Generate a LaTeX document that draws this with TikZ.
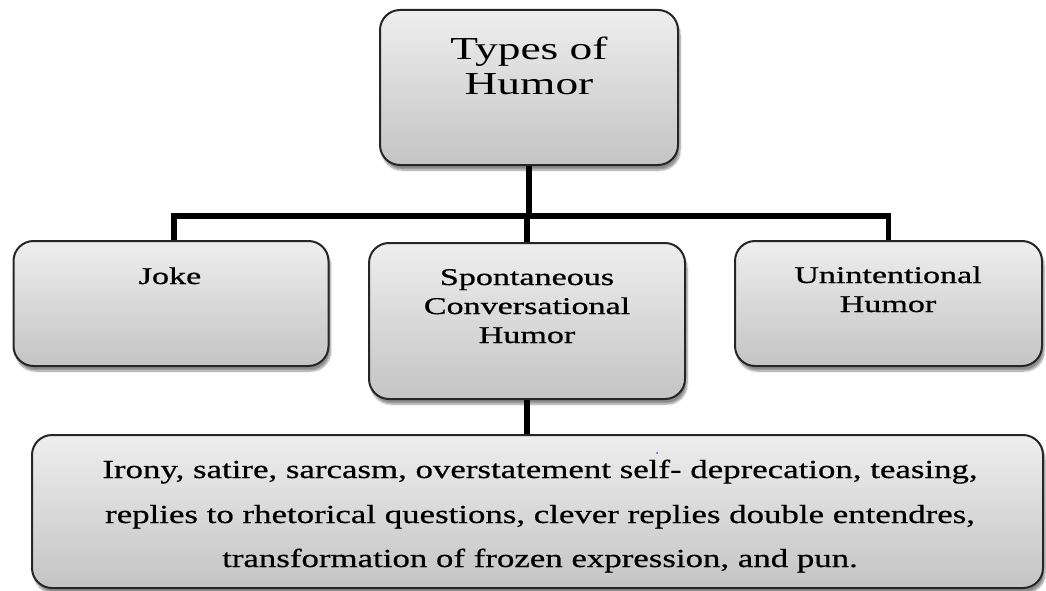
\documentclass[tikz,border=0pt]{standalone}
\usepackage{fontspec}
\setmainfont{Liberation Serif}
\newfontfamily\topf{Liberation Serif}[FakeStretch=1.42]
\newfontfamily\midf{Liberation Serif}[FakeStretch=1.42, FakeBold=0.8]
\newfontfamily\lowf{Liberation Serif}[FakeStretch=1.34, FakeBold=0.6]
\usetikzlibrary{shadows.blur}
\tikzset{
  hbox/.style={draw=black!85, line width=2pt, rounded corners=20pt,
    top color={rgb,255:red,238;green,238;blue,238},
    bottom color={rgb,255:red,196;green,196;blue,196},
    blur shadow={shadow xshift=2pt, shadow yshift=-5pt, shadow blur steps=8, shadow opacity=45},
    inner sep=0pt},
  bigtxt/.style={anchor=base, inner sep=0pt, font=\topf\fontsize{32}{35}\selectfont},
  midtxt/.style={anchor=base, inner sep=0pt, font=\midf\fontsize{24}{29}\selectfont},
  lowtxt/.style={anchor=base, inner sep=0pt, font=\lowf\fontsize{26}{44}\selectfont},
  conn/.style={line width=5.5pt, black}
}
\begin{document}
\begin{tikzpicture}[x=1pt,y=-1pt]
\useasboundingbox (0,0) rectangle (1046,591);
% boxes
\node[hbox, minimum width=298pt, minimum height=155pt] (top) at (529,87.5) {};
\node[hbox, minimum width=315pt, minimum height=125pt] (joke) at (171,303.5) {};
\node[hbox, minimum width=316pt, minimum height=156pt] (mid) at (527,321) {};
\node[hbox, minimum width=307pt, minimum height=125pt] (unint) at (888.5,303.5) {};
\node[hbox, minimum width=1011pt, minimum height=153pt] (low) at (537.5,511.5) {};
% connectors
\coordinate (bus) at (528,216);
\draw[conn] (top.south) -- (top.south |- bus);
\draw[conn] (joke.north -| 174,0) |- (bus) -| (unint.north);
\draw[conn] (bus -| mid.north) -- (mid.north);
\draw[conn] (mid.south) -- (low.north -| mid.south);
% texts
\node[bigtxt] (t1) at (529,60) {Types of};
\node[bigtxt] (t2) at (529,95) {Humor};
\node[midtxt] (j1) at (170,284) {Joke};
\node[midtxt] (m1) at (527,285) {Spontaneous};
\node[midtxt] (m2) at (527,314) {Conversational};
\node[midtxt] (m3) at (527,343) {Humor};
\node[midtxt] (u1) at (888,283) {Unintentional};
\node[midtxt] (u2) at (888,312) {Humor};
\node[lowtxt] (l1) at (540,478) {Irony, satire, sarcasm, overstatement self- deprecation, teasing,};
\node[lowtxt] (l2) at (540,523) {replies to rhetorical questions, clever replies double entendres,};
\node[lowtxt] (l3) at (540,567) {transformation of frozen expression, and pun.};
\fill[blue!70] (657,453) circle (1pt);
\end{tikzpicture}
\end{document}
